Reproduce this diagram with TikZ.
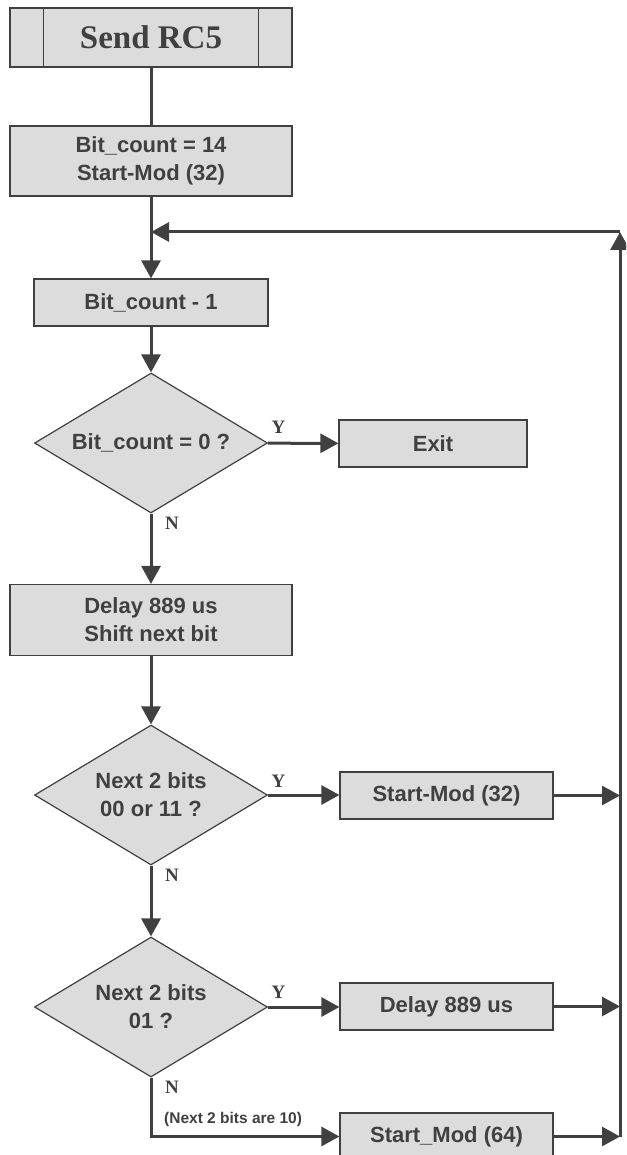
\documentclass[tikz,border=0pt]{standalone}
\usepackage{fontspec}
\usetikzlibrary{shapes.geometric,arrows.meta}
\newfontfamily\boxfont{Liberation Sans}
\newfontfamily\titlefont{Liberation Serif}
\definecolor{lineg}{HTML}{404040}
\definecolor{fillg}{HTML}{DCDCDC}
\tikzset{
  box/.style={draw=lineg, fill=fillg, line width=1.2pt, text=lineg, inner sep=0pt, align=center,
    font=\boxfont\bfseries\fontsize{22}{28}\selectfont},
  decision/.style={box, diamond, aspect=1.66, minimum width=233pt, minimum height=140pt},
  link/.style={draw=lineg, line width=3pt},
  flow/.style={link, -{Triangle[length=18pt,width=19pt]}},
  yn/.style={text=lineg, inner sep=0pt, font=\titlefont\bfseries\fontsize{19}{19}\selectfont},
}

\begin{document}
\begin{tikzpicture}[x=1pt,y=-1pt]
   \useasboundingbox (0,0) rectangle (626,1155);
   \clip (0,0) rectangle (626,1155);

   \node[box, minimum width=282pt, minimum height=59pt,
         font=\titlefont\bfseries\fontsize{33}{33}\selectfont] (start) at (151,37.5) {Send RC5};
   \draw[lineg, line width=1.2pt] ([xshift=34pt]start.north west) -- ([xshift=34pt]start.south west);
   \draw[lineg, line width=1.2pt] ([xshift=-34pt]start.north east) -- ([xshift=-34pt]start.south east);

   \node[box, minimum width=282pt, minimum height=70pt] (init) at (151,161) {Bit\_count = 14\\Start-Mod (32)};
   \node[box, minimum width=234pt, minimum height=47pt] (dec) at (151,302.5) {Bit\_count - 1};
   \node[decision] (q1) at (151,443) {Bit\_count = 0 ?};
   \node[box, minimum width=188pt, minimum height=47pt] (exit) at (433,443.5) {Exit};
   \node[box, minimum width=282pt, minimum height=71pt] (shift) at (151,620) {Delay 889 us\\Shift next bit};
   \node[decision] (q2) at (151,795) {Next 2 bits\\00 or 11 ?};
   \node[box, minimum width=213pt, minimum height=47pt] (mod32) at (446.5,795.5) {Start-Mod (32)};
   \node[decision] (q3) at (151,1007) {Next 2 bits\\01 ?};
   \node[box, minimum width=213pt, minimum height=47pt] (delay) at (446.5,1006.5) {Delay 889 us};
   \node[box, minimum width=213pt, minimum height=47pt] (mod64) at (446.5,1136.5) {Start\_Mod (64)};

   \coordinate (rtop) at (620,232);
   \coordinate (join) at (151,232);
   \coordinate (r32) at (620,795.5);
   \coordinate (rdelay) at (620,1006.5);
   \coordinate (r64) at (620,1136.5);

   \draw[link] (start) -- (init);
   \draw[flow] (init) -- (dec);
   \draw[flow] (dec) -- (q1);
   \draw[flow] (q1) -- (shift);
   \draw[flow] (shift) -- (q2);
   \draw[flow] (q2) -- (q3);
   \draw[flow] (q1) -- (exit);
   \draw[flow] (q2) -- (q2 -| mod32.west);
   \draw[flow] (q3) -- (q3 -| delay.west);
   \draw[flow] (q3.south) |- (mod64.west);

   \draw[flow] (mod32) -- (r32);
   \draw[flow] (delay) -- (rdelay);
   \draw[flow] (mod64) -- (r64);
   \draw[flow] (r64) -- (rtop);
   \draw[flow] (rtop) -- (join);

   \node[yn] (y1) at ([xshift=10.5pt,yshift=16pt]q1.east) {Y};
   \node[yn] (y2) at ([xshift=10.5pt,yshift=14pt]q2.east) {Y};
   \node[yn] (y3) at ([xshift=10.5pt,yshift=15pt]q3.east) {Y};
   \node[yn] (n1) at ([xshift=21pt,yshift=-10pt]q1.south) {N};
   \node[yn] (n2) at ([xshift=21pt,yshift=-10pt]q2.south) {N};
   \node[yn] (n3) at ([xshift=21pt,yshift=-10pt]q3.south) {N};
   \node[anchor=west, inner sep=0pt, text=lineg, font=\boxfont\bfseries\fontsize{15.5}{15.5}\selectfont]
     (other) at (164,1119) {(Next 2 bits are 10)};
\end{tikzpicture}
\end{document}
